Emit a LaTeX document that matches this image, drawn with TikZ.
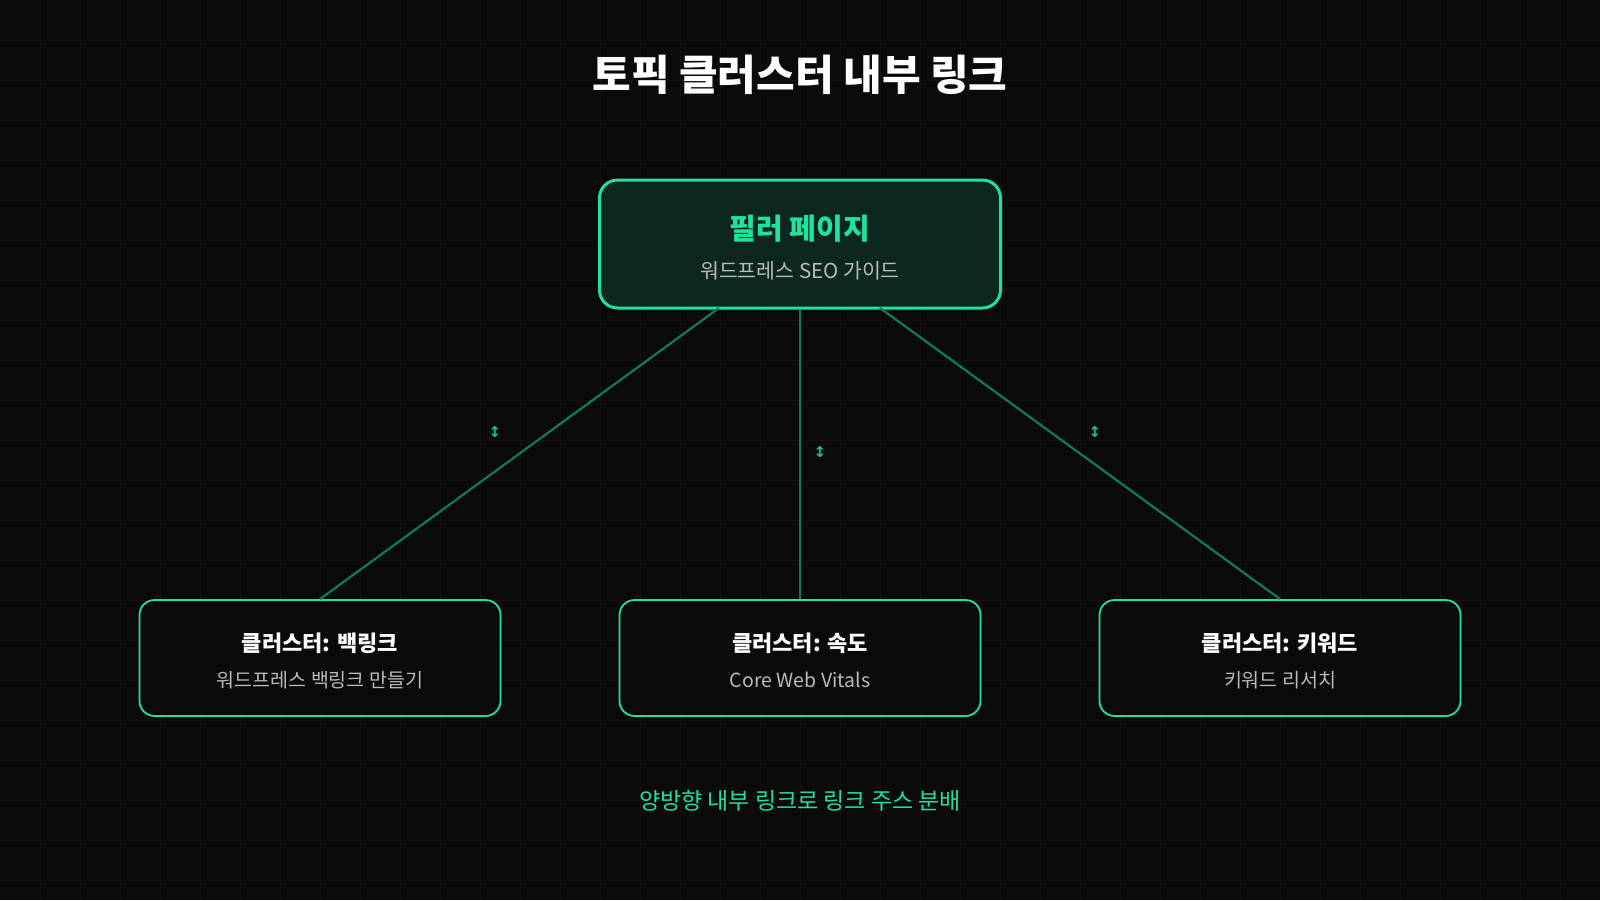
\documentclass[tikz,border=0pt]{standalone}
\usepackage{fontspec}
\setmainfont{Noto Sans CJK KR}
\newfontfamily\symfont{DejaVu Sans}
\definecolor{bg}{HTML}{0A0A0A}
\definecolor{gridc}{HTML}{111111}
\definecolor{accent}{HTML}{1FE39B}
\definecolor{linkc}{HTML}{0E7D57}
\definecolor{pillarfill}{HTML}{0B2720}
\definecolor{subc}{HTML}{BBBBBB}
\tikzset{
  pillar/.style={draw=accent, line width=3pt, fill=pillarfill, rounded corners=18pt,
    minimum width=401, minimum height=128},
  cluster/.style={draw=accent, line width=1.8pt, fill=bg, rounded corners=15pt,
    minimum width=361, minimum height=116},
  link/.style={draw=linkc, line width=2.2pt},
  linkmark/.style={text=accent!70!linkc, font=\fontsize{15}{15}\selectfont\symfont\bfseries}
}
\begin{document}
\begin{tikzpicture}[x=1pt, y=-1pt]
  % background and grid
  \fill[bg] (0,0) rectangle (1600,900);
  \useasboundingbox (0,0) rectangle (1600,900);
  \foreach \gx in {40,80,...,1560} \draw[gridc, line width=0.5pt] (\gx,0) -- (\gx,900);
  \foreach \gy in {40,80,...,880} \draw[gridc, line width=0.5pt] (0,\gy) -- (1600,\gy);

  \node[text=white, font=\fontsize{42}{42}\selectfont\bfseries] (title) at (800,75) {토픽 클러스터 내부 링크};

  % pillar
  \node[pillar] (pillar) at (800,244) {};
  \node[text=accent, font=\fontsize{29}{29}\selectfont\bfseries] (ptitle) at (800,229) {필러 페이지};
  \node[text=subc, font=\fontsize{20.5}{20.5}\selectfont] (psub) at (800,271) {워드프레스 SEO 가이드};

  % clusters
  \node[cluster] (c1) at (320,658) {};
  \node[cluster] (c2) at (800,658) {};
  \node[cluster] (c3) at (1280,658) {};
  \node[text=white, font=\fontsize{22}{22}\selectfont\bfseries] (t1) at (320,643) {클러스터: 백링크};
  \node[text=subc, font=\fontsize{19.5}{19.5}\selectfont] (s1) at (320,680) {워드프레스 백링크 만들기};
  \node[text=white, font=\fontsize{22}{22}\selectfont\bfseries] (t2) at (800,643) {클러스터: 속도};
  \node[text=subc, font=\fontsize{19.5}{19.5}\selectfont] (s2) at (800,680) {Core Web Vitals};
  \node[text=white, font=\fontsize{22}{22}\selectfont\bfseries] (t3) at (1280,643) {클러스터: 키워드};
  \node[text=subc, font=\fontsize{19.5}{19.5}\selectfont] (s3) at (1280,680) {키워드 리서치};

  % links
  \coordinate (p1) at (719,308);
  \coordinate (p3) at (880,308);
  \draw[link] (p1) -- (c1.north);
  \draw[link] (pillar.south) -- (c2.north);
  \draw[link] (p3) -- (c3.north);
  \node[linkmark] (m1) at (495,432) {↕};
  \node[linkmark] (m2) at (820,452) {↕};
  \node[linkmark] (m3) at (1095,432) {↕};

  \node[text=accent, font=\fontsize{23}{23}\selectfont] (foot) at (800,801) {양방향 내부 링크로 링크 주스 분배};
\end{tikzpicture}
\end{document}
